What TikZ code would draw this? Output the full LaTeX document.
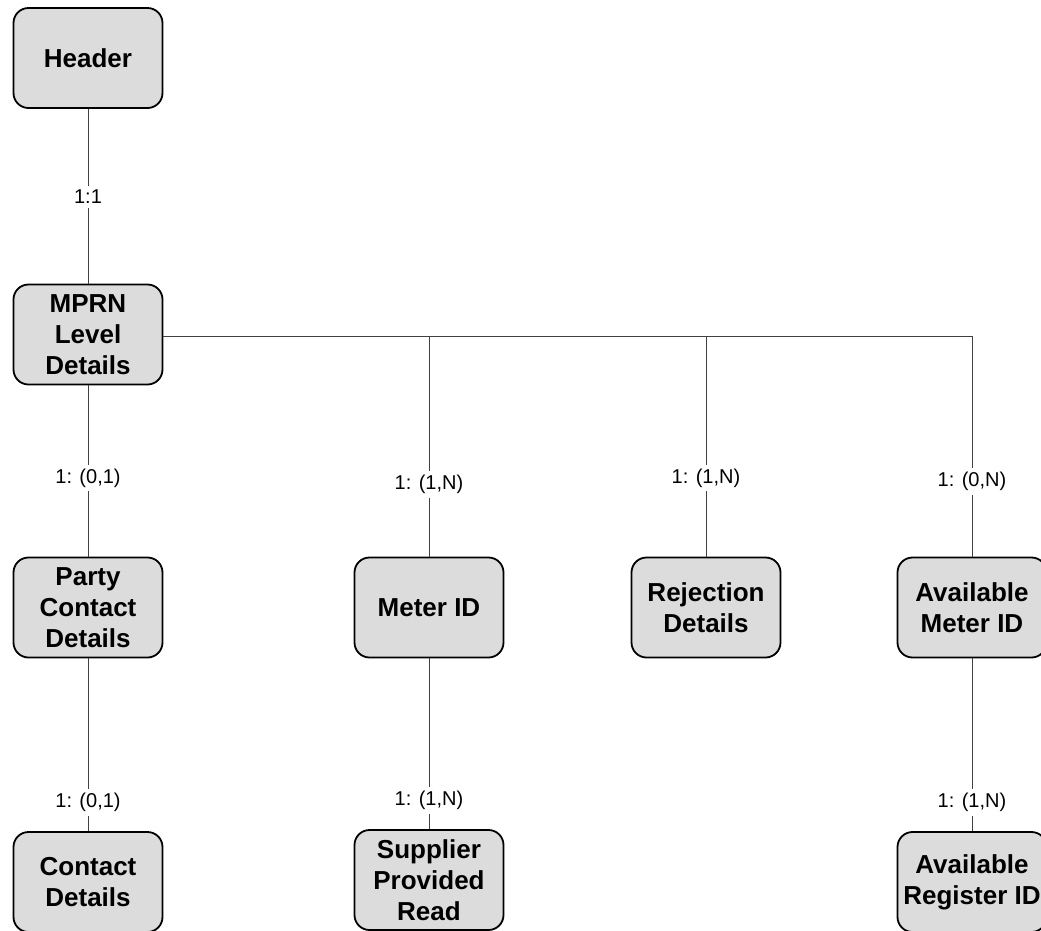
\documentclass[tikz,border=0pt]{standalone}
\usepackage{fontspec}
\setmainfont{Liberation Sans}
\begin{document}
\begin{tikzpicture}[x=1pt,y=1pt,
  entity/.style={draw=black, line width=1.8pt, fill=boxgray, rounded corners=15pt,
    minimum width=149pt, minimum height=100pt, align=center, inner sep=1pt,
    font=\fontsize{26}{31}\selectfont\bfseries},
  conn/.style={line width=0.8pt, draw=black!75},
  lbl/.style={fill=white, inner sep=4pt, font=\fontsize{20}{22}\selectfont, text=black}]
\definecolor{boxgray}{HTML}{DCDCDC}
\useasboundingbox (0,0) rectangle (1041,-930);
\clip (0,0) rectangle (1041,-930);
\node[entity] (hdr) at (88,-58) {Header};
\node[entity] (mprn) at (88,-334.5) {MPRN\\Level\\Details};
\node[entity] (party) at (88,-607.5) {Party\\Contact\\Details};
\node[entity] (meter) at (429,-607.5) {Meter ID};
\node[entity] (rej) at (706,-607.5) {Rejection\\Details};
\node[entity] (avm) at (972,-607.5) {Available\\Meter ID};
\node[entity] (contact) at (88,-882) {Contact\\Details};
\node[entity] (spr) at (429,-880) {Supplier\\Provided\\Read};
\node[entity] (avr) at (972,-882) {Available\\Register ID};
\coordinate (j1) at (429,-336);
\coordinate (j2) at (706,-336);
\coordinate (j3) at (972,-336);
\draw[conn] (hdr) -- node[lbl, pos=0.503] {1:1} (mprn);
\draw[conn] (mprn) -- node[lbl, pos=0.54] {1: (0,1)} (party);
\draw[conn] (mprn.east |- j1) -- (j3);
\draw[conn] (j1) -- node[lbl, pos=0.674] {1: (1,N)} (meter);
\draw[conn] (j2) -- node[lbl, pos=0.643] {1: (1,N)} (rej);
\draw[conn] (j3) -- node[lbl, pos=0.66] {1: (0,N)} (avm);
\draw[conn] (party) -- node[lbl, pos=0.833] {1: (0,1)} (contact);
\draw[conn] (meter) -- node[lbl, pos=0.833] {1: (1,N)} (spr);
\draw[conn] (avm) -- node[lbl, pos=0.833] {1: (1,N)} (avr);
\end{tikzpicture}
\end{document}
